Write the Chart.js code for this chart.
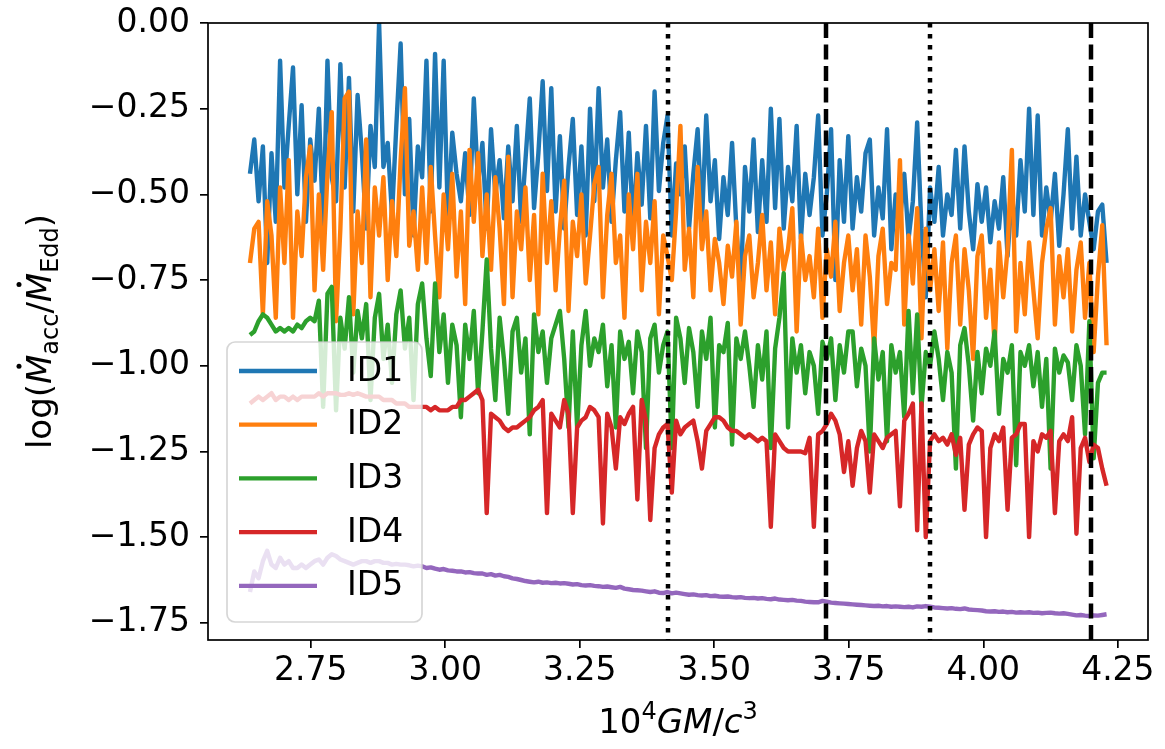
<!DOCTYPE html>
<html>
<head>
<meta charset="utf-8">
<script src="https://cdn.jsdelivr.net/npm/chart.js@4.4.1/dist/chart.umd.min.js"></script>
<style>
  html, body { margin: 0; padding: 0; background: #fff; }
  canvas { display: block; }
</style>
</head>
<body>
<canvas id="grafico" width="1165" height="749"></canvas>
<script>
/* ---------------------------------- Datos --------------------------------- */
// muestreo en 10^4 GM/c^3
const tInicio = 2.637;
const tPaso = 0.008;

const id1 = [
  -0.44, -0.34, -0.52, -0.36, -0.70, -0.38, -0.58, -0.11, -0.48, -0.30,
  -0.13, -0.50, -0.24, -0.58, -0.34, -0.46, -0.25, -0.60, -0.11, -0.45,
  -0.52, -0.12, -0.48, -0.16, -0.55, -0.21, -0.38, -0.60, -0.30, -0.42,
  0.00, -0.42, -0.35, -0.56, -0.30, -0.06, -0.50, -0.28, -0.62, -0.36,
  -0.45, -0.11, -0.55, -0.09, -0.48, -0.11, -0.58, -0.32, -0.44, -0.52,
  -0.38, -0.56, -0.22, -0.47, -0.35, -0.60, -0.31, -0.50, -0.40, -0.57,
  -0.36, -0.52, -0.30, -0.58, -0.40, -0.22, -0.54, -0.38, -0.17, -0.49,
  -0.19, -0.55, -0.33, -0.60, -0.42, -0.28, -0.56, -0.36, -0.62, -0.25,
  -0.52, -0.19, -0.48, -0.34, -0.58, -0.40, -0.26, -0.55, -0.32, -0.60,
  -0.38, -0.53, -0.30, -0.57, -0.20, -0.49, -0.35, -0.27, -0.62, -0.41,
  -0.50, -0.36, -0.60, -0.44, -0.31, -0.58, -0.27, -0.52, -0.40, -0.63,
  -0.45, -0.56, -0.35, -0.60, -0.78, -0.42, -0.55, -0.34, -0.61, -0.40,
  -0.58, -0.25, -0.54, -0.28, -0.60, -0.42, -0.52, -0.30, -0.63, -0.44,
  -0.56, -0.45, -0.27, -0.62, -0.50, -0.31, -0.75, -0.40, -0.58, -0.33,
  -0.60, -0.45, -0.55, -0.38, -0.34, -0.62, -0.48, -0.57, -0.31, -0.66,
  -0.50, -0.58, -0.44, -0.63, -0.52, -0.29, -0.60, -0.80, -0.48, -0.58,
  -0.42, -0.62, -0.50, -0.56, -0.37, -0.60, -0.36, -0.55, -0.66, -0.47,
  -0.58, -0.48, -0.64, -0.52, -0.60, -0.45, -0.68, -0.50, -0.62, -0.40,
  -0.55, -0.25, -0.56, -0.27, -0.62, -0.48, -0.58, -0.44, -0.65, -0.50,
  -0.31, -0.60, -0.39, -0.62, -0.50, -0.58, -0.66, -0.55, -0.53, -0.70
];

const id2 = [
  -0.70, -0.60, -0.58, -0.85, -0.52, -0.62, -0.86, -0.48, -0.70, -0.40,
  -0.86, -0.55, -0.68, -0.45, -0.36, -0.78, -0.50, -0.72, -0.44, -0.26,
  -0.87, -0.60, -0.22, -0.20, -0.85, -0.55, -0.70, -0.34, -0.80, -0.48,
  -0.62, -0.45, -0.75, -0.52, -0.68, -0.40, -0.19, -0.65, -0.55, -0.72,
  -0.48, -0.70, -0.42, -0.62, -0.80, -0.50, -0.66, -0.44, -0.74, -0.55,
  -0.82, -0.37, -0.58, -0.38, -0.68, -0.50, -0.72, -0.45, -0.60, -0.82,
  -0.39, -0.80, -0.55, -0.66, -0.48, -0.75, -0.56, -0.85, -0.44, -0.70,
  -0.52, -0.78, -0.60, -0.46, -0.84, -0.58, -0.68, -0.50, -0.76, -0.62,
  -0.47, -0.42, -0.80, -0.56, -0.44, -0.70, -0.62, -0.86, -0.50, -0.66,
  -0.44, -0.78, -0.58, -0.70, -0.52, -0.85, -0.62, -0.68, -0.75, -0.55,
  -0.30, -0.72, -0.60, -0.80, -0.42, -0.66, -0.55, -0.78, -0.63, -0.70,
  -0.82, -0.65, -0.74, -0.58, -0.88, -0.68, -0.62, -0.80, -0.70, -0.56,
  -0.78, -0.64, -0.85, -0.60, -0.72, -0.66, -0.54, -0.90, -0.62, -0.75,
  -0.68, -0.80, -0.60, -0.86, -0.66, -0.74, -0.58, -0.84, -0.70, -0.62,
  -0.78, -0.66, -0.88, -0.62, -0.74, -0.95, -0.68, -0.60, -0.82, -0.70,
  -0.72, -0.40, -0.88, -0.62, -0.76, -0.54, -0.92, -0.60, -0.78, -0.66,
  -0.84, -0.64, -0.95, -0.70, -0.62, -0.88, -0.66, -0.78, -0.98, -0.68,
  -0.62, -0.86, -0.72, -0.94, -0.64, -0.80, -0.66, -0.37, -0.90, -0.70,
  -0.85, -0.64, -0.78, -0.92, -0.70, -0.60, -0.54, -0.88, -0.68, -0.80,
  -0.66, -0.90, -0.72, -0.64, -0.86, -0.70, -0.96, -0.74, -0.59, -0.94
];

const id3 = [
  -0.91, -0.90, -0.87, -0.85, -0.86, -0.88, -0.90, -0.89, -0.90, -0.89,
  -0.90, -0.88, -0.89, -0.87, -0.86, -0.87, -0.81, -1.12, -0.79, -0.77,
  -1.13, -0.86, -0.95, -0.80, -1.02, -0.84, -0.92, -0.82, -1.10, -0.86,
  -0.79, -0.98, -0.88, -1.05, -0.85, -0.78, -0.95, -0.86, -1.10, -0.82,
  -0.76, -0.92, -1.03, -0.76, -0.96, -0.85, -1.05, -0.88, -0.94, -1.15,
  -0.88, -0.98, -0.84, -1.08, -0.90, -0.69, -0.95, -1.10, -0.86, -0.98,
  -1.14, -0.90, -0.86, -1.02, -0.92, -1.20, -0.85, -0.96, -0.90, -1.05,
  -0.92, -0.88, -0.84, -0.98, -1.18, -0.90, -1.18, -0.94, -0.84, -1.00,
  -0.92, -0.96, -0.88, -1.06, -0.94, -1.18, -0.90, -0.98, -0.93, -1.08,
  -0.90, -0.96, -1.24, -0.92, -0.88, -1.02, -0.94, -0.90, -1.24, -0.86,
  -0.92, -1.05, -0.89, -0.96, -1.12, -0.90, -0.98, -0.86, -1.18, -0.94,
  -0.96, -0.875, -1.23, -0.92, -0.98, -0.90, -1.00, -1.12, -0.94, -1.04,
  -0.90, -1.24, -0.95, -0.86, -0.73, -1.18, -0.92, -1.02, -0.94, -1.08,
  -0.96, -1.00, -1.14, -0.93, -0.98, -0.92, -1.10, -0.94, -1.02, -0.90,
  -0.90, -1.06, -0.95, -1.00, -1.25, -0.92, -1.04, -0.96, -1.22, -0.94,
  -1.02, -0.96, -1.15, -0.84, -1.08, -0.85, -1.12, -0.96, -1.00, -0.90,
  -0.98, -1.10, -0.96, -1.02, -1.30, -0.94, -0.89, -1.00, -1.16, -0.96,
  -1.08, -0.95, -1.00, -0.90, -1.14, -0.98, -1.02, -0.94, -1.29, -0.96,
  -1.00, -0.94, -1.06, -0.96, -1.12, -0.98, -1.30, -0.95, -1.02, -0.97,
  -0.99, -1.10, -0.94, -1.00, -1.20, -0.87, -1.27, -1.05, -1.02, -1.02
];

const id4 = [
  -1.11, -1.10, -1.09, -1.10, -1.09, -1.08, -1.10, -1.09, -1.09, -1.10,
  -1.09, -1.10, -1.09, -1.09, -1.09, -1.09, -1.08, -1.09, -1.08, -1.08,
  -1.08, -1.085, -1.085, -1.08, -1.085, -1.08, -1.085, -1.09, -1.09, -1.09,
  -1.09, -1.10, -1.10, -1.10, -1.11, -1.11, -1.11, -1.12, -1.12, -1.12,
  -1.12, -1.12, -1.13, -1.12, -1.13, -1.13, -1.13, -1.12, -1.12, -1.10,
  -1.10, -1.09, -1.08, -1.07, -1.10, -1.43, -1.14, -1.15, -1.16, -1.18,
  -1.19, -1.18, -1.18, -1.17, -1.16, -1.15, -1.13, -1.12, -1.10, -1.43,
  -1.14, -1.16, -1.18, -1.10, -1.14, -1.43, -1.18, -1.16, -1.15, -1.12,
  -1.13, -1.15, -1.46, -1.14, -1.18, -1.30, -1.15, -1.17, -1.14, -1.12,
  -1.39, -1.10, -1.16, -1.45, -1.24, -1.20, -1.18, -1.17, -1.37, -1.16,
  -1.20, -1.18, -1.17, -1.16, -1.22, -1.30, -1.19, -1.17, -1.15, -1.15,
  -1.16, -1.18, -1.19, -1.19, -1.20, -1.21, -1.20, -1.21, -1.22, -1.21,
  -1.22, -1.47, -1.20, -1.22, -1.24, -1.25, -1.25, -1.25, -1.25, -1.255,
  -1.21, -1.47, -1.20, -1.19, -1.17, -1.14, -1.16, -1.20, -1.31, -1.22,
  -1.35, -1.24, -1.19, -1.22, -1.37, -1.20, -1.22, -1.24, -1.21, -1.20,
  -1.19, -1.41, -1.16, -1.14, -1.11, -1.48, -1.11, -1.50, -1.22, -1.20,
  -1.22, -1.21, -1.23, -1.20, -1.26, -1.21, -1.42, -1.23, -1.20, -1.18,
  -1.19, -1.50, -1.24, -1.20, -1.22, -1.18, -1.42, -1.21, -1.20, -1.17,
  -1.17, -1.50, -1.22, -1.25, -1.20, -1.21, -1.19, -1.43, -1.22, -1.20,
  -1.22, -1.15, -1.49, -1.24, -1.21, -1.28, -1.23, -1.24, -1.30, -1.35
];

const id5 = [
  -1.66, -1.60, -1.62, -1.57, -1.54, -1.58, -1.59, -1.56, -1.58, -1.57,
  -1.59, -1.59, -1.58, -1.59, -1.58, -1.57, -1.565, -1.58, -1.56, -1.55,
  -1.555, -1.565, -1.57, -1.575, -1.58, -1.575, -1.57, -1.57, -1.575, -1.57,
  -1.57, -1.575, -1.575, -1.58, -1.578, -1.58, -1.58, -1.582, -1.585, -1.583,
  -1.585, -1.59, -1.588, -1.592, -1.595, -1.593, -1.597, -1.598, -1.60, -1.60,
  -1.603, -1.602, -1.605, -1.606, -1.606, -1.61, -1.608, -1.612, -1.61, -1.614,
  -1.616, -1.62, -1.622, -1.625, -1.628, -1.63, -1.632, -1.63, -1.633, -1.632,
  -1.634, -1.633, -1.635, -1.634, -1.636, -1.638, -1.637, -1.64, -1.641, -1.64,
  -1.642, -1.643, -1.645, -1.644, -1.646, -1.648, -1.645, -1.65, -1.652, -1.654,
  -1.655, -1.656, -1.658, -1.66, -1.658, -1.662, -1.663, -1.66, -1.664, -1.662,
  -1.664, -1.666, -1.668, -1.667, -1.669, -1.67, -1.669, -1.672, -1.671, -1.673,
  -1.674, -1.673, -1.675, -1.676, -1.675, -1.677, -1.678, -1.677, -1.679, -1.678,
  -1.68, -1.681, -1.679, -1.682, -1.683, -1.684, -1.683, -1.685, -1.686, -1.688,
  -1.689, -1.69, -1.69, -1.686, -1.688, -1.691, -1.692, -1.693, -1.694, -1.695,
  -1.696, -1.697, -1.698, -1.699, -1.70, -1.701, -1.70, -1.702, -1.701, -1.703,
  -1.702, -1.703, -1.704, -1.703, -1.705, -1.702, -1.703, -1.701, -1.703, -1.705,
  -1.706, -1.707, -1.708, -1.707, -1.709, -1.71, -1.708, -1.711, -1.712, -1.713,
  -1.714, -1.716, -1.717, -1.716, -1.718, -1.717, -1.719, -1.718, -1.72, -1.719,
  -1.72, -1.719, -1.721, -1.72, -1.722, -1.721, -1.72, -1.722, -1.723, -1.722,
  -1.724, -1.726, -1.728, -1.727, -1.729, -1.73, -1.728, -1.729, -1.727, -1.725
];

const etiquetas = ['ID1', 'ID2', 'ID3', 'ID4', 'ID5'];
const valores = [id1, id2, id3, id4, id5];
const colores = ['#1f77b4', '#ff7f0e', '#2ca02c', '#d62728', '#9467bd'];

const ticksX = [2.75, 3.00, 3.25, 3.50, 3.75, 4.00, 4.25];
const ticksY = [0.00, -0.25, -0.50, -0.75, -1.00, -1.25, -1.50, -1.75];

// lineas verticales
const lineasPunteadas = [3.413, 3.901];
const lineasDiscontinuas = [3.708, 4.200];

const tiempos = id1.map((_, i) => tInicio + i * tPaso);

/* --------------------------------- Grafico -------------------------------- */
const fuente = 'DejaVu Sans';

function fmtTick(v) {
    let txt = Math.abs(v).toFixed(2);
    return v < -1e-9 ? '\u2212' + txt : txt;
}

// dibuja un texto con partes (sub/superindices) centrado en x
function textoCompuesto(ctx, partes, x, y) {
    let total = 0;
    partes.forEach((p) => {
        ctx.font = (p.it ? 'italic ' : '') + p.tam + 'px "' + fuente + '"';
        p.w = ctx.measureText(p.t).width;
        total += p.w;
    });
    let cx = x - total / 2;
    partes.forEach((p) => {
        ctx.font = (p.it ? 'italic ' : '') + p.tam + 'px "' + fuente + '"';
        ctx.fillText(p.t, cx, y + (p.dy || 0));
        if (p.punto) {
            ctx.beginPath();
            ctx.arc(cx + p.w / 2 + 3, y - 32, 2.5, 0, Math.PI * 2);
            ctx.fill();
        }
        cx += p.w;
    });
}

const pluginExtras = {
    id: 'extras',
    afterDatasetsDraw(chart) {
        const ctx = chart.ctx;
        const area = chart.chartArea;
        const sx = chart.scales.x;
        ctx.save();
        ctx.strokeStyle = '#000';
        ctx.lineWidth = 4.5;
        ctx.lineCap = 'butt';
        const trazar = (lista, patron) => {
            lista.forEach((v) => {
                let px = Math.round(sx.getPixelForValue(v));
                ctx.setLineDash(patron);
                ctx.beginPath();
                ctx.moveTo(px, area.top);
                ctx.lineTo(px, area.bottom);
                ctx.stroke();
            });
        };
        trazar(lineasPunteadas, [4.5, 6.5]);
        trazar(lineasDiscontinuas, [15, 6.5]);
        ctx.setLineDash([]);
        // marco
        ctx.lineWidth = 1.7;
        ctx.strokeRect(area.left, area.top, area.right - area.left, area.bottom - area.top);
        ctx.restore();
    },
    afterDraw(chart) {
        const ctx = chart.ctx;
        const area = chart.chartArea;
        ctx.save();
        ctx.fillStyle = '#000';
        ctx.textBaseline = 'alphabetic';
        ctx.textAlign = 'left';

        // titulo eje x
        textoCompuesto(ctx, [
            { t: '10', tam: 34 },
            { t: '4', tam: 24, dy: -14 },
            { t: 'GM', tam: 34, it: true },
            { t: '/', tam: 34 },
            { t: 'c', tam: 34, it: true },
            { t: '3', tam: 24, dy: -14 }
        ], (area.left + area.right) / 2, 733);

        // titulo eje y
        ctx.save();
        ctx.translate(51, (area.top + area.bottom) / 2);
        ctx.rotate(-Math.PI / 2);
        textoCompuesto(ctx, [
            { t: 'log(', tam: 34 },
            { t: 'M', tam: 34, it: true, punto: true },
            { t: 'acc', tam: 24, dy: 7 },
            { t: '/', tam: 34 },
            { t: 'M', tam: 34, it: true, punto: true },
            { t: 'Edd', tam: 24, dy: 7 },
            { t: ')', tam: 34 }
        ], 0, 0);
        ctx.restore();

        // leyenda
        let lx = 227, ly = 342, lw = 195, lh = 280;
        ctx.beginPath();
        ctx.roundRect(lx, ly, lw, lh, 8);
        ctx.fillStyle = 'rgba(255,255,255,0.8)';
        ctx.fill();
        ctx.strokeStyle = 'rgba(204,204,204,0.8)';
        ctx.lineWidth = 1.7;
        ctx.stroke();
        ctx.font = '33px "' + fuente + '"';
        ctx.textBaseline = 'middle';
        etiquetas.forEach((et, k) => {
            let fy = 371 + k * 53.7;
            ctx.strokeStyle = colores[k];
            ctx.lineWidth = 4.3;
            ctx.beginPath();
            ctx.moveTo(239, fy);
            ctx.lineTo(317, fy);
            ctx.stroke();
            ctx.fillStyle = '#000';
            ctx.fillText(et, 347, fy + 1);
        });
        ctx.restore();
    }
};

let canvasGrafico = document.getElementById('grafico');

let chartGrafico = new Chart(canvasGrafico, {
    type: 'line',
    data: {
        datasets: etiquetas.map((et, k) => ({
            label: et,
            data: tiempos.map((t, i) => ({ x: t, y: valores[k][i] })),
            borderColor: colores[k],
            backgroundColor: colores[k],
            borderWidth: 4.4,
            borderJoinStyle: 'round',
            pointRadius: 0,
            tension: 0,
            fill: false,
            order: etiquetas.length - k
        }))
    },
    options: {
        responsive: false,
        animation: false,
        devicePixelRatio: 1,
        layout: { padding: { left: 0, top: 23, right: 17, bottom: 0 } },
        plugins: {
            legend: { display: false },
            tooltip: { enabled: false }
        },
        scales: {
            x: {
                type: 'linear',
                min: 2.559,
                max: 4.306,
                afterBuildTicks: (s) => { s.ticks = ticksX.map((v) => ({ value: v })); },
                afterFit: (s) => { s.height = 109; s.paddingLeft = 0; s.paddingRight = 0; },
                ticks: {
                    color: '#000',
                    font: { family: fuente, size: 33 },
                    padding: 4,
                    maxRotation: 0,
                    autoSkip: false,
                    callback: (v) => v.toFixed(2)
                },
                grid: { display: true, drawOnChartArea: false, drawTicks: true, tickLength: 8, lineWidth: 1.7, color: '#000' },
                border: { display: false }
            },
            y: {
                type: 'linear',
                min: -1.80,
                max: 0,
                afterBuildTicks: (s) => { s.ticks = ticksY.map((v) => ({ value: v })); },
                afterFit: (s) => { s.width = 208; s.paddingTop = 0; s.paddingBottom = 0; },
                ticks: {
                    color: '#000',
                    font: { family: fuente, size: 33 },
                    padding: 10,
                    autoSkip: false,
                    callback: (v) => fmtTick(v)
                },
                grid: { display: true, drawOnChartArea: false, drawTicks: true, tickLength: 8, lineWidth: 1.7, color: '#000' },
                border: { display: false }
            }
        }
    },
    plugins: [pluginExtras]
});
</script>
</body>
</html>
